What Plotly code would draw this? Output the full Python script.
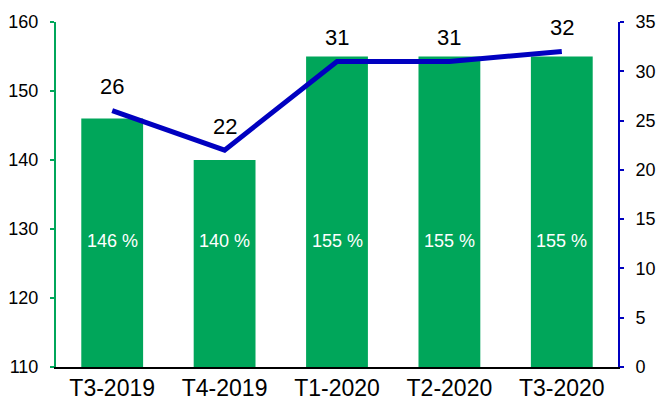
import plotly.graph_objects as go

categories = ["T3-2019", "T4-2019", "T1-2020", "T2-2020", "T3-2020"]
bar_values = [146, 140, 155, 155, 155]
bar_labels = ["146 %", "140 %", "155 %", "155 %", "155 %"]
line_values = [26, 22, 31, 31, 32]
left_ticks = [110, 120, 130, 140, 150, 160]
right_ticks = [0, 5, 10, 15, 20, 25, 30, 35]

green = "#00A65A"
blue = "#0000C0"
font = "Liberation Sans, Arial, sans-serif"

fig = go.Figure()
fig.add_trace(go.Bar(
    x=categories, y=[v - 110 for v in bar_values], base=110,
    marker=dict(color=green, line=dict(width=0)),
    hoverinfo="skip", showlegend=False,
))
fig.add_trace(go.Scatter(
    x=categories, y=line_values, yaxis="y2", mode="lines",
    line=dict(color=blue, width=5),
    showlegend=False,
))

for c, v in zip(categories, line_values):
    fig.add_annotation(x=c, y=v, xref="x", yref="y2", text=str(v), showarrow=False,
                       yshift=24, font=dict(size=22, color="black", family=font))

for c, lab in zip(categories, bar_labels):
    fig.add_annotation(x=c, y=0.365, yref="paper", xref="x", text=lab,
                       showarrow=False, font=dict(size=18, color="white", family=font))

fig.update_layout(
    width=656, height=408,
    margin=dict(l=56, r=38, t=22, b=41, autoexpand=False),
    paper_bgcolor="white", plot_bgcolor="white",
    bargap=0.45,
    font=dict(family=font, color="black"),
    xaxis=dict(showline=True, linecolor="black", linewidth=1.5, ticks="",
               tickfont=dict(size=23), showgrid=False, automargin=False),
    yaxis=dict(range=[110, 160], tickvals=left_ticks, showline=True, linecolor=green,
               linewidth=2, ticks="outside", tickcolor=green, ticklen=4, tickwidth=2,
               tickfont=dict(size=18), showgrid=False, zeroline=False, automargin=False,
               ticklabelstandoff=8),
    yaxis2=dict(range=[0, 35], tickvals=right_ticks, overlaying="y", side="right",
                showline=True, linecolor=blue, linewidth=2, ticks="outside",
                tickcolor=blue, ticklen=4, tickwidth=2, tickfont=dict(size=18),
                showgrid=False, zeroline=False, automargin=False,
                ticklabelstandoff=8),
)

fig.write_html("out.html", config={"displayModeBar": False},
               post_script="document.body.style.margin='0';document.body.style.padding='0';")
